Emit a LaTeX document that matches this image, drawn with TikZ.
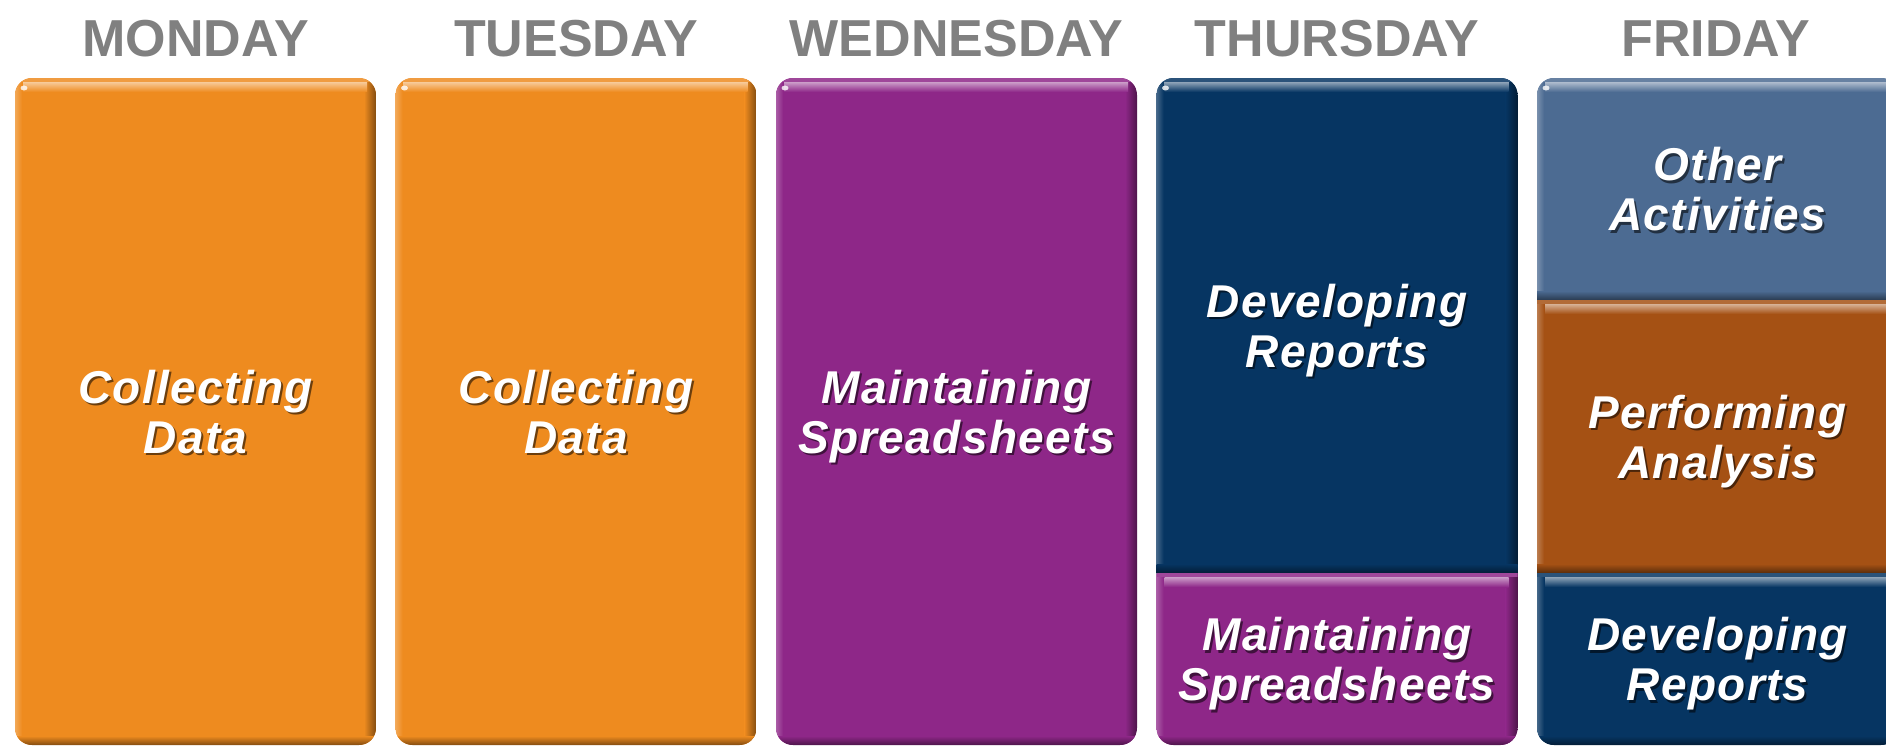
\documentclass[tikz,border=0pt]{standalone}
\usepackage{fontspec}
\setmainfont{Liberation Sans}
\newfontfamily\lblfont[LetterSpace=3]{Liberation Sans}
\definecolor{cOrange}{RGB}{238,139,31}
\definecolor{cPurple}{RGB}{142,39,136}
\definecolor{cNavy}{RGB}{6,53,98}
\definecolor{cSteel}{RGB}{76,107,146}
\definecolor{cBrown}{RGB}{165,81,20}
\definecolor{cHead}{RGB}{128,128,128}
\tikzset{
  dayhead/.style={font=\fontsize{52}{60}\selectfont\bfseries, text=cHead, inner sep=0pt, anchor=base},
  lbl/.style={font=\lblfont\fontsize{46}{50}\selectfont\bfseries\itshape, text=white, align=center, inner sep=0pt, text depth=0pt},
  lblshadow/.style={lbl, text=black, opacity=0.55},
}
% #1 x-left, #2 y-top, #3 y-bottom, #4 colour, #5 name, #6 text
\newcommand\dayseg[6]{%
  \fill[#4] (#1,#2) rectangle ({#1+361},#3);
  \shade[left color=#4!75!white, right color=#4] (#1,#2) rectangle ({#1+7},#3);
  \shade[left color=#4, right color=#4!55!black] ({#1+349},#2) rectangle ({#1+361},#3);
  \shade[top color=#4!45!white, bottom color=#4] ({#1+8},{#2+4}) rectangle ({#1+352},{#2+14});
  \fill[#4!85!white] (#1,#2) rectangle ({#1+361},{#2+4});
  \shade[top color=#4, bottom color=#4!55!black] (#1,{#3-9}) rectangle ({#1+361},#3);
  \node[lblshadow] (#5s) at ({#1+182.5},{(#2+#3)/2+2.5}) {#6};
  \node[lbl] (#5) at ({#1+180.5},{(#2+#3)/2}) {#6};
}
\newcommand\dayclip[1]{\clip[rounded corners=17pt] (#1,78) rectangle ({#1+361},745);}
\newcommand\dayspec[1]{\fill[white, opacity=0.8] ({#1+9},88) ellipse [x radius=3.5pt, y radius=2.5pt];}
\begin{document}
\begin{tikzpicture}[x=1pt, y=-1pt]
  \useasboundingbox (0,0) rectangle (1886,746);
  \clip (0,0) rectangle (1886,746);
  \fill[white] (0,0) rectangle (1886,746);
  % headers
  \node[dayhead] (hmon) at (195.5,57) {MONDAY};
  \node[dayhead] (htue) at (576,57) {TUESDAY};
  \node[dayhead] (hwed) at (956.5,57) {WEDNESDAY};
  \node[dayhead] (hthu) at (1337,57) {THURSDAY};
  \node[dayhead] (hfri) at (1716,57) {FRIDAY};
  % Monday
  \begin{scope}\dayclip{15}
    \dayseg{15}{78}{745}{cOrange}{mon}{Collecting\\Data}\dayspec{15}
  \end{scope}
  % Tuesday
  \begin{scope}\dayclip{395.5}
    \dayseg{395.5}{78}{745}{cOrange}{tue}{Collecting\\Data}\dayspec{395.5}
  \end{scope}
  % Wednesday
  \begin{scope}\dayclip{776}
    \dayseg{776}{78}{745}{cPurple}{wed}{Maintaining\\Spreadsheets}\dayspec{776}
  \end{scope}
  % Thursday
  \begin{scope}\dayclip{1156.5}
    \dayseg{1156.5}{78}{573}{cNavy}{thua}{Developing\\Reports}
    \dayseg{1156.5}{573}{745}{cPurple}{thub}{Maintaining\\Spreadsheets}\dayspec{1156.5}
  \end{scope}
  % Friday
  \begin{scope}\dayclip{1537}
    \dayseg{1537}{78}{300}{cSteel}{fria}{Other\\Activities}
    \dayseg{1537}{300}{573}{cBrown}{frib}{Performing\\Analysis}
    \dayseg{1537}{573}{745}{cNavy}{fric}{Developing\\Reports}\dayspec{1537}
  \end{scope}
\end{tikzpicture}
\end{document}
